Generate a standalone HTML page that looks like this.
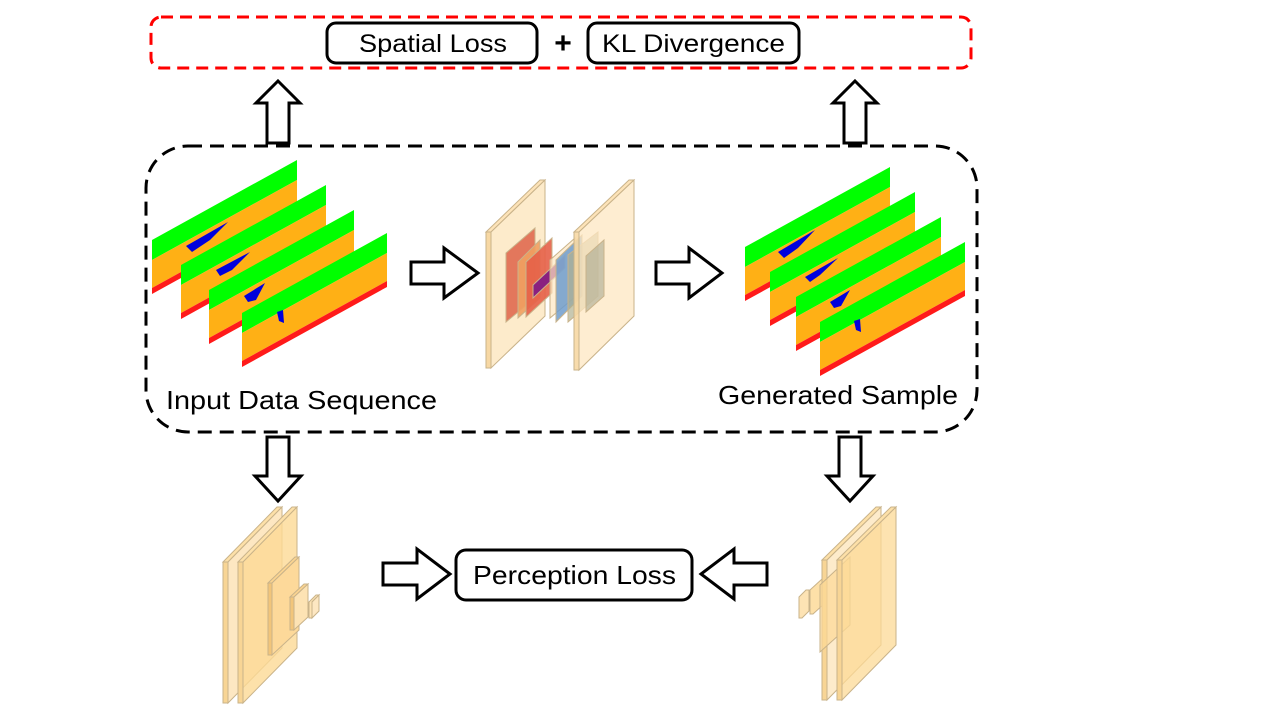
<!DOCTYPE html>
<html><head><meta charset="utf-8"><style>
html,body{margin:0;padding:0;background:#fff;}
svg{display:block}
text{font-family:"Liberation Sans",sans-serif;}
</style></head><body>
<svg width="1280" height="720" viewBox="0 0 1280 720" xmlns="http://www.w3.org/2000/svg">
<defs>
<g id="slice">
  <polygon points="0,80 145,0 145,20 0,100" fill="#00ff00"/>
  <polygon points="0,100 145,20 145,48 0,128" fill="#ffb015"/>
  <polygon points="0,128 145,48 145,54 0,134" fill="#ff1a1a"/>
</g>
<g id="uparrow"><polygon points="0,-31 22,-9 11,-9 11,31 -11,31 -11,-9 -22,-9" fill="#fff" stroke="#000" stroke-width="3"/></g>
</defs>

<rect x="151" y="17" width="820" height="51" rx="10" fill="none" stroke="#ff0000" stroke-width="3" stroke-dasharray="12,7"/>
<rect x="327" y="23" width="210" height="40" rx="9" fill="#fff" stroke="#000" stroke-width="3"/>
<text x="359" y="52" font-size="25" textLength="148" lengthAdjust="spacingAndGlyphs">Spatial Loss</text>
<text x="563" y="53" font-size="30" font-weight="bold" text-anchor="middle">+</text>
<rect x="588" y="23" width="211" height="40" rx="9" fill="#fff" stroke="#000" stroke-width="3"/>
<text x="602" y="52" font-size="25" textLength="183" lengthAdjust="spacingAndGlyphs">KL Divergence</text>

<use href="#uparrow" x="278" y="112"/>
<use href="#uparrow" x="855" y="112"/>

<rect x="146" y="146" width="831" height="286" rx="42" fill="none" stroke="#000" stroke-width="3" stroke-dasharray="14,8"/>

<g transform="translate(152,160)"><use href="#slice"/></g>
<g transform="translate(181,185)"><use href="#slice"/></g>
<g transform="translate(209,210)"><use href="#slice"/></g>
<g transform="translate(242,233)"><use href="#slice"/></g>
<polygon points="186,246 228,222 210,240 192,252" fill="#0000dd"/>
<polygon points="216,270 250,252 232,270 220,276" fill="#0000dd"/>
<polygon points="244,296 265,283 256,300 248,302" fill="#0000dd"/>
<polygon points="277,312 283,310 284,323 279,321" fill="#0000dd"/>

<g transform="translate(745,167)"><use href="#slice"/></g>
<g transform="translate(770,192)"><use href="#slice"/></g>
<g transform="translate(796,217)"><use href="#slice"/></g>
<g transform="translate(820,242)"><use href="#slice"/></g>
<polygon points="778,252 815,230 798,248 784,258" fill="#0000dd"/>
<polygon points="805,277 838,258 820,275 810,282" fill="#0000dd"/>
<polygon points="830,302 850,290 841,306 834,308" fill="#0000dd"/>
<polygon points="854,321 860,319 861,332 856,330" fill="#0000dd"/>

<text x="166" y="409" font-size="26" textLength="271" lengthAdjust="spacingAndGlyphs">Input Data Sequence</text>
<text x="718" y="404" font-size="26" textLength="240" lengthAdjust="spacingAndGlyphs">Generated Sample</text>

<polygon points="411,262 444,262 444,248 478,273 444,298 444,284 411,284" fill="#fff" stroke="#000" stroke-width="3"/>
<polygon points="656,262 689,262 689,248 722,273 689,298 689,284 656,284" fill="#fff" stroke="#000" stroke-width="3"/>

<g stroke="#c9b38a" stroke-width="1">
<polygon points="486,232 540,180 545,180 491,232" fill="#fde3b8"/>
<polygon points="486,232 491,232 491,368 486,368" fill="#f7d8a4"/>
<polygon points="491,232 545,180 545,316 491,368" fill="#fde7c2" fill-opacity="0.85"/>
<polygon points="506,253 535,228 535,298 506,322" fill="#e06a50" fill-opacity="0.9"/>
<polygon points="518,262 540,240 540,298 518,318" fill="#f0a060" fill-opacity="0.9"/>
<polygon points="526,262 552,238 552,293 526,317" fill="#e66048" fill-opacity="0.9"/>
<polygon points="533,285 565,255 565,268 533,298" fill="#8a2080"/>
<polygon points="550,260 575,238 575,297 550,318" fill="#fde7c2" fill-opacity="0.7"/>
<polygon points="556,260 582,235 582,296 556,322" fill="#6f9ccc" fill-opacity="0.85"/>
<polygon points="568,255 598,232 598,296 568,322" fill="#b0b090" fill-opacity="0.7"/>
<polygon points="574,232 629,180 634,180 579,232" fill="#fde3b8"/>
<polygon points="574,232 579,232 579,370 574,370" fill="#f7d8a4" fill-opacity="0.9"/>
<polygon points="579,232 634,180 634,316 579,370" fill="#fde7c2" fill-opacity="0.75"/>
<polygon points="586,256 604,240 604,296 586,312" fill="#a8a890" fill-opacity="0.6"/>
</g>

<polygon points="267,437 289,437 289,476 301,476 278,501 255,476 267,476" fill="#fff" stroke="#000" stroke-width="3"/>
<polygon points="839,437 861,437 861,476 873,476 850,501 827,476 839,476" fill="#fff" stroke="#000" stroke-width="3"/>

<rect x="456" y="550" width="236" height="50" rx="10" fill="#fff" stroke="#000" stroke-width="3"/>
<text x="473" y="584" font-size="26" textLength="203" lengthAdjust="spacingAndGlyphs">Perception Loss</text>
<polygon points="383,563 417,563 417,549 450,574 417,599 417,585 383,585" fill="#fff" stroke="#000" stroke-width="3"/>
<polygon points="767,563 734,563 734,549 701,574 734,599 734,585 767,585" fill="#fff" stroke="#000" stroke-width="3"/>

<g stroke="#c9b38a" stroke-width="1">
<polygon points="223,562 277,507 282,507 228,562" fill="#fde0a8"/>
<polygon points="223,562 228,562 228,703 223,703" fill="#f8d595"/>
<polygon points="228,562 282,507 282,648 228,703" fill="#fde7c2"/>
<polygon points="238,562 292,507 297,507 243,562" fill="#fde0a8"/>
<polygon points="238,562 243,562 243,703 238,703" fill="#f8d595"/>
<polygon points="243,562 297,507 297,648 243,703" fill="#fcd995" fill-opacity="0.8"/>
<polygon points="268,583 295,557 299,557 272,583" fill="#fbd490"/>
<polygon points="268,583 272,583 272,655 268,655" fill="#f2c57a"/>
<polygon points="272,583 299,557 299,630 272,655" fill="#fdd99a"/>
<polygon points="290,597 304,584 308,584 294,597" fill="#fbd490"/>
<polygon points="290,597 294,597 294,630 290,630" fill="#f2c57a"/>
<polygon points="294,597 308,584 308,617 294,630" fill="#fde3b4"/>
<polygon points="309,602 316,595 319,595 312,602 312,618 309,618" fill="#fde3b4"/>
<polygon points="312,602 319,595 319,611 312,618" fill="#fde7c2"/>
</g>

<g stroke="#c9b38a" stroke-width="1">
<polygon points="799,597 806,590 809,590 809,611 802,618 799,618" fill="#fde3b4"/>
<polygon points="810,590 822,579 825,579 825,603 813,614 810,614" fill="#fde0a8"/>
<polygon points="822,560 876,507 881,507 827,560" fill="#fde0a8"/>
<polygon points="822,560 827,560 827,700 822,700" fill="#f8d595"/>
<polygon points="827,560 881,507 881,645 827,700" fill="#fde7c2" fill-opacity="0.85"/>
<polygon points="820,585 850,557 850,625 820,652" fill="#fcd995" fill-opacity="0.7"/>
<polygon points="837,560 891,507 896,507 842,560" fill="#fde0a8"/>
<polygon points="837,560 842,560 842,700 837,700" fill="#f8d595"/>
<polygon points="842,560 896,507 896,645 842,700" fill="#fcd995" fill-opacity="0.75"/>
</g>
</svg>
</body></html>
